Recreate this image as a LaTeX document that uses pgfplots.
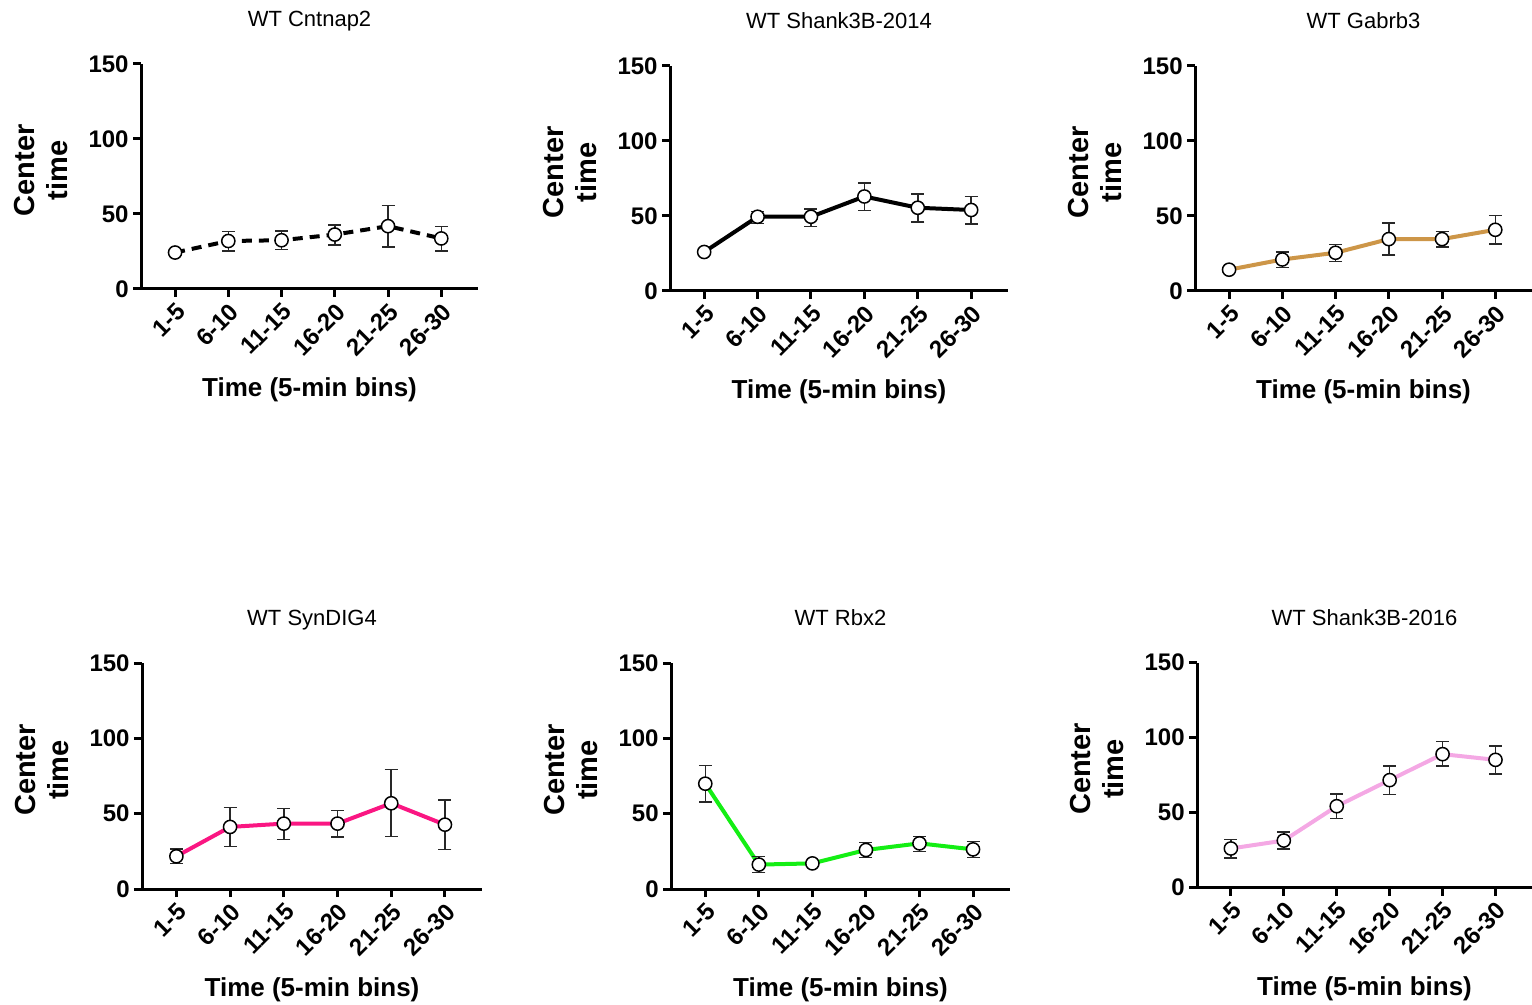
\documentclass[border=0pt]{standalone}
\usepackage{pgfplots}
\pgfplotsset{compat=1.18}
\usepackage{fontspec}
\setmainfont{Liberation Sans}
\definecolor{tan}{RGB}{205,150,72}
\definecolor{magentapk}{RGB}{250,22,130}
\definecolor{brightgreen}{RGB}{20,238,20}
\definecolor{lightpk}{RGB}{244,168,228}
\definecolor{errgray}{RGB}{40,40,40}
\pgfplotsset{
  panel/.style={
    scale only axis,
    height=112.5pt,
    xmin=-0.64, xmax=5.69,
    ymin=0, ymax=150,
    ytick={0,50,100,150},
    xtick={0,1,2,3,4,5},
    xticklabels={1-5,6-10,11-15,16-20,21-25,26-30},
    axis x line*=bottom,
    axis y line*=left,
    axis line style={line width=1.5pt, black},
    tick align=outside,
    major tick length=4pt,
    tick style={line width=1.5pt, black},
    /pgf/number format/assume math mode=true,
    ticklabel style={font=\bfseries\fontsize{12}{12}\selectfont},
    xticklabel style={rotate=45, anchor=north east, inner sep=1.5pt},
    yticklabel style={inner sep=2pt},
    xlabel={Time (5-min bins)},
    ylabel={Center\\time},
    xlabel style={at={(axis description cs:0.5,0)}, anchor=center, yshift=-50.5pt, font=\bfseries\fontsize{13}{13}\selectfont},
    ylabel style={at={(axis description cs:0,0.5)}, anchor=center, yshift=50pt, xshift=3pt, align=center, font=\bfseries\fontsize{14.5}{16.5}\selectfont},
    title style={at={(axis description cs:0.5,1)}, anchor=base, yshift=12.75pt, font=\fontsize{11}{11}\selectfont},
    clip=false,
    anchor=south west,
  },
  series/.style={
    line width=2pt, color=#1,
    mark=*, mark size=3.3pt,
    mark options={solid, fill=white, draw=black, line width=0.75pt},
    error bars/y dir=both, error bars/y explicit,
    error bars/error bar style={line width=0.75pt, errgray, solid},
    error bars/error mark options={rotate=90, mark size=3.25pt, line width=0.75pt, errgray, solid},
  },
}
\begin{document}
\begin{tikzpicture}
\useasboundingbox (0,0) rectangle (766pt,-502.5pt);
% Panel 1
\begin{axis}[panel, at={(70.5pt,-144.5pt)}, width=168.5pt, title={WT Cntnap2}]
\addplot[series=black, dash pattern=on 5pt off 3.5pt] coordinates {
(0,24.3) +=(0,0) -=(0,0)
(1,32) +=(0,6.3) -=(0,6.7)
(2,32.5) +=(0,6.1) -=(0,6.2)
(3,36.3) +=(0,6.5) -=(0,7.1)
(4,41.9) +=(0,13.8) -=(0,13.8)
(5,33.7) +=(0,8) -=(0,8.5)
};
\end{axis}
% Panel 2
\begin{axis}[panel, at={(335pt,-145.5pt)}, width=169pt, title={WT Shank3B-2014}]
\addplot[series=black] coordinates {
(0,26) +=(0,0) -=(0,0)
(1,49.5) +=(0,3.5) -=(0,4.5)
(2,49.5) +=(0,5.2) -=(0,6.5)
(3,63) +=(0,9) -=(0,9.5)
(4,55.5) +=(0,9) -=(0,9.5)
(5,54) +=(0,9) -=(0,9.5)
};
\end{axis}
% Panel 3
\begin{axis}[panel, at={(597.5pt,-145.5pt)}, width=168.5pt, title={WT Gabrb3}]
\addplot[series=tan] coordinates {
(0,14.2) +=(0,0) -=(0,0)
(1,21) +=(0,5) -=(0,5.3)
(2,25.5) +=(0,5.5) -=(0,5.8)
(3,34.6) +=(0,10.6) -=(0,10.6)
(4,34.6) +=(0,5.2) -=(0,5.4)
(5,40.8) +=(0,9.5) -=(0,9.6)
};
\end{axis}
% Panel 4
\begin{axis}[panel, at={(71pt,-444.5pt)}, width=170pt, height=113pt, title={WT SynDIG4}]
\addplot[series=magentapk] coordinates {
(0,21.7) +=(0,4.8) -=(0,4.7)
(1,41.2) +=(0,13) -=(0,12.9)
(2,43.4) +=(0,10) -=(0,10.4)
(3,43.4) +=(0,8.6) -=(0,8.9)
(4,56.9) +=(0,22.3) -=(0,22.2)
(5,42.7) +=(0,16.3) -=(0,16.6)
};
\end{axis}
% Panel 5
\begin{axis}[panel, at={(335.5pt,-444.5pt)}, width=169.5pt, height=113pt, title={WT Rbx2}]
\addplot[series=brightgreen] coordinates {
(0,69.9) +=(0,12.2) -=(0,12.2)
(1,16.2) +=(0,5.3) -=(0,5.2)
(2,17.0) +=(0,0) -=(0,0)
(3,25.9) +=(0,5.1) -=(0,5.1)
(4,30.3) +=(0,4.6) -=(0,5.5)
(5,26.3) +=(0,5.3) -=(0,5.3)
};
\end{axis}
% Panel 6
\begin{axis}[panel, at={(598.5pt,-443.75pt)}, width=167.5pt, height=112.5pt, title={WT Shank3B-2016}]
\addplot[series=lightpk] coordinates {
(0,26) +=(0,6) -=(0,6.2)
(1,31.3) +=(0,5.8) -=(0,5.7)
(2,54.2) +=(0,8.2) -=(0,8.2)
(3,71.6) +=(0,9.5) -=(0,9.6)
(4,88.9) +=(0,8.4) -=(0,8)
(5,85.1) +=(0,9.3) -=(0,9.3)
};
\end{axis}
\end{tikzpicture}
\end{document}
